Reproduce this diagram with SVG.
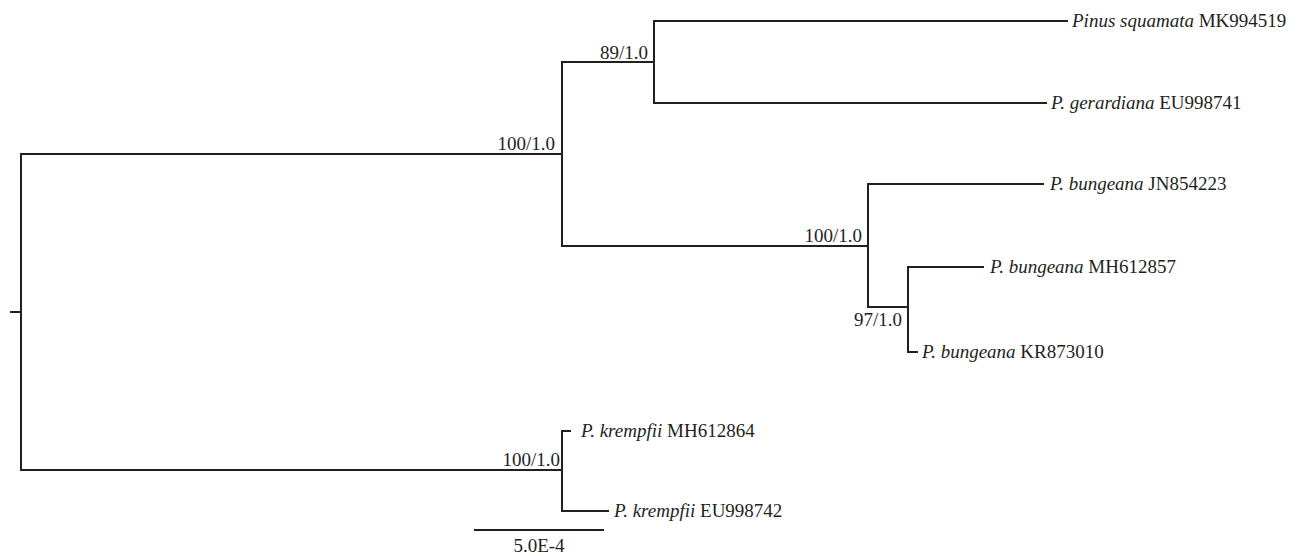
<svg xmlns="http://www.w3.org/2000/svg" width="1301" height="556" viewBox="0 0 1301 556">
<style>
.br{fill:none;stroke:#231f20;stroke-width:2;stroke-linecap:square}
</style>
<rect width="1301" height="556" fill="#fff"/>
<g id="connectors">
<path class="br" d="M11 312H21M21 154V470M21 154H562M21 470H562"/>
<path class="br" d="M562 62V246M562 62H654M562 246H868"/>
<path class="br" d="M654 21V103M654 21H1067M654 103H1046"/>
<path class="br" d="M868 184V307M868 184H1043M868 307H908"/>
<path class="br" d="M908 267V352M908 267H983M908 352H917"/>
<path class="br" d="M562 431V511M562 431H570M562 511H608"/>
</g>
<g id="support">
<text x="555" y="150" font-family="Liberation Serif" font-size="19" fill="#231f20" text-anchor="end">100/1.0</text>
<text x="648" y="59" font-family="Liberation Serif" font-size="19" fill="#231f20" text-anchor="end">89/1.0</text>
<text x="862" y="242" font-family="Liberation Serif" font-size="19" fill="#231f20" text-anchor="end">100/1.0</text>
<text x="902" y="326" font-family="Liberation Serif" font-size="19" fill="#231f20" text-anchor="end">97/1.0</text>
<text x="560" y="466" font-family="Liberation Serif" font-size="19" fill="#231f20" text-anchor="end">100/1.0</text>
</g>
<g id="taxon-squamata"><text x="1072" y="27" font-family="Liberation Serif" font-size="19" fill="#231f20"><tspan font-style="italic">Pinus squamata</tspan> MK994519</text></g>
<g id="taxon-gerardiana"><text x="1051" y="109" font-family="Liberation Serif" font-size="19" fill="#231f20"><tspan font-style="italic">P. gerardiana</tspan> EU998741</text></g>
<g id="taxon-bungeana-JN854223"><text x="1050" y="190" font-family="Liberation Serif" font-size="19" fill="#231f20"><tspan font-style="italic">P. bungeana</tspan> JN854223</text></g>
<g id="taxon-bungeana-MH612857"><text x="990" y="273" font-family="Liberation Serif" font-size="19" fill="#231f20"><tspan font-style="italic">P. bungeana</tspan> MH612857</text></g>
<g id="taxon-bungeana-KR873010"><text x="922" y="358" font-family="Liberation Serif" font-size="19" fill="#231f20"><tspan font-style="italic">P. bungeana</tspan> KR873010</text></g>
<g id="taxon-krempfii-MH612864"><text x="581" y="437" font-family="Liberation Serif" font-size="19" fill="#231f20"><tspan font-style="italic">P. krempfii</tspan> MH612864</text></g>
<g id="taxon-krempfii-EU998742"><text x="614" y="517" font-family="Liberation Serif" font-size="19" fill="#231f20"><tspan font-style="italic">P. krempfii</tspan> EU998742</text></g>
<g id="scale">
<path class="br" d="M475 530H603"/>
<text x="539" y="552" font-family="Liberation Serif" font-size="19" fill="#231f20" text-anchor="middle">5.0E-4</text>
</g>
</svg>
